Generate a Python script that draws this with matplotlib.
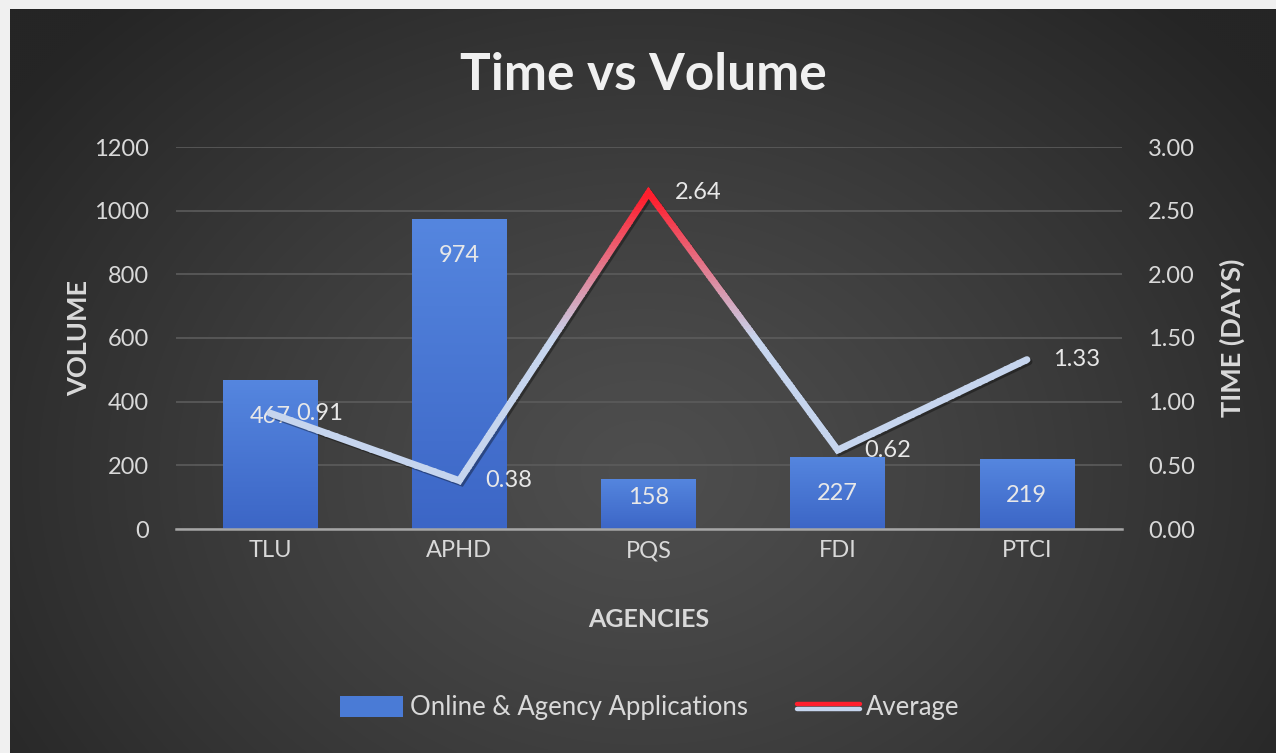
import numpy as np
import matplotlib
matplotlib.use('Agg')
import matplotlib.pyplot as plt
from matplotlib.patches import Rectangle, Patch
from matplotlib.lines import Line2D
from matplotlib.legend_handler import HandlerBase
import matplotlib.transforms as mtransforms

categories = ['TLU', 'APHD', 'PQS', 'FDI', 'PTCI']
volume = [467, 974, 158, 227, 219]
avg_days = [0.91, 0.38, 2.64, 0.62, 1.33]
vol_ticks = [0, 200, 400, 600, 800, 1000, 1200]
day_ticks = [0.0, 0.5, 1.0, 1.5, 2.0, 2.5, 3.0]

FONT = 'Lato'
plt.rcParams['font.family'] = [FONT, 'DejaVu Sans']
TXT = '#d9d9d9'

W, H = 1276, 753
fig = plt.figure(figsize=(W / 100, H / 100), dpi=100, facecolor='#f0f0f0')

# ---- radial gradient background ----
bg = fig.add_axes([10 / W, 0, 1 - 10 / W, 1 - 9 / H])
gh, gw = 372, 633
yy, xx = np.mgrid[0:gh, 0:gw]
cx, cy = gw * 0.50, gh * 0.62
r = np.sqrt(((xx - cx) / (gw * 0.62)) ** 2 + ((yy - cy) / (gh * 0.85)) ** 2)
r = np.clip(r, 0, 1)
light, dark = 0x4e / 255, 0x25 / 255
val = light - (light - dark) * r ** 1.2
img = np.dstack([val, val, val])
bg.imshow(img, aspect='auto', interpolation='bilinear')
bg.axis('off')

# ---- main axes ----
ax = fig.add_axes([175.5 / W, 1 - 529 / H, (1121.5 - 175.5) / W, (529 - 147) / H])
ax.patch.set_alpha(0)
x = np.arange(len(categories))
ax.set_xlim(-0.5, len(categories) - 0.5)
ax.set_ylim(vol_ticks[0], vol_ticks[-1])
ax.set_yticks(vol_ticks)
ax.set_yticklabels([str(v) for v in vol_ticks])
ax.set_xticks(x)
ax.set_xticklabels(categories)
ax.grid(axis='y', color='#5c5c5c', lw=1.2, zorder=0)
ax.set_axisbelow(True)
for s in ['top', 'left', 'right']:
    ax.spines[s].set_visible(False)
ax.spines['bottom'].set_color('#a6a6a6')
ax.spines['bottom'].set_linewidth(1.8)
ax.tick_params(axis='both', length=0, colors=TXT, labelsize=17)
ax.tick_params(axis='y', pad=19)
ax.tick_params(axis='x', pad=8)

bars = ax.bar(x, volume, width=0.5, color='#4a7bd6', zorder=2)
grad = np.linspace(0, 1, 100).reshape(-1, 1)
top_c = np.array([0x55, 0x86, 0xdf]) / 255
bot_c = np.array([0x3c, 0x66, 0xc6]) / 255
gimg = (top_c[None, None, :] * (1 - grad[:, :, None]) + bot_c[None, None, :] * grad[:, :, None])
for b in bars:
    bx, by, bw, bh = b.get_x(), b.get_y(), b.get_width(), b.get_height()
    im = ax.imshow(gimg, extent=[bx, bx + bw, by, by + bh], aspect='auto',
                   zorder=2.1, interpolation='bilinear')
    im.set_clip_path(b)
ax.set_xlim(-0.5, len(categories) - 0.5)
ax.set_ylim(vol_ticks[0], vol_ticks[-1])

for xi, v in zip(x, volume):
    ly = max(v - 115, 100)
    ax.text(xi, ly, str(v), ha='center', va='center', color='#e8e8e8',
            fontsize=17, zorder=5)

ax.set_ylabel('VOLUME', color=TXT, fontsize=19.5, fontweight='bold', labelpad=2)
ax.set_xlabel('AGENCIES', color=TXT, fontsize=18, fontweight='bold', labelpad=34)

# ---- secondary axis ----
ax2 = ax.twinx()
ax2.set_ylim(day_ticks[0], day_ticks[-1])
ax2.set_yticks(day_ticks)
ax2.set_yticklabels([f'{v:.2f}' for v in day_ticks])
for s in ['top', 'left', 'right', 'bottom']:
    ax2.spines[s].set_visible(False)
ax2.tick_params(axis='y', length=0, colors=TXT, labelsize=17, pad=19)
ax2.set_ylabel('TIME (DAYS)', color=TXT, fontsize=19.5, fontweight='bold',
               rotation=90, labelpad=18)

red = np.array([1.0, 0.12, 0.18])
blue = np.array([0xc6, 0xd5, 0xee]) / 255
def color_at(v, hi=2.6, lo=1.5):
    t = np.clip((v - lo) / (hi - lo), 0, 1)
    return blue * (1 - t) + red * t

shadow_tr = ax2.transData + mtransforms.ScaledTranslation(1.5 / 72, -1.5 / 72, fig.dpi_scale_trans)
ax2.plot(x, avg_days, color='black', alpha=0.35, lw=5, transform=shadow_tr,
         solid_capstyle='round', solid_joinstyle='miter', zorder=3)
edges = np.linspace(0, 3, 121)
for lo_e, hi_e in zip(edges[:-1], edges[1:]):
    c = color_at((lo_e + hi_e) / 2)
    ln, = ax2.plot(x, avg_days, color=c, lw=5, solid_capstyle='round',
                   solid_joinstyle='miter', zorder=4)
    rect = Rectangle((-1, lo_e - 0.002), 7, hi_e - lo_e + 0.004, transform=ax2.transData)
    ln.set_clip_path(rect)

for xi, v in zip(x, avg_days):
    ax2.annotate(f'{v:.2f}', (xi, v), xytext=(19, 0), textcoords='offset points',
                 ha='left', va='center', color='#e8e8e8', fontsize=17, zorder=6)

# ---- title ----
fig.text(643 / W, 1 - 76 / H, 'Time vs Volume', ha='center', va='center',
         color='#f0f0f0', fontsize=37, fontweight='bold')

# ---- legend ----
class GradLineHandler(HandlerBase):
    def create_artists(self, legend, orig_handle, xdescent, ydescent, width, height, fontsize, trans):
        yc = height / 2 - ydescent
        l1 = Line2D([0, width], [yc + 1.6, yc + 1.6], color=red, lw=3.2, solid_capstyle='round', transform=trans)
        l2 = Line2D([0, width], [yc - 1.6, yc - 1.6], color=blue, lw=3.2, solid_capstyle='round', transform=trans)
        return [l1, l2]

h_bar = Patch(facecolor='#4a7bd6', edgecolor='none')
h_line = Line2D([], [])
leg = fig.legend([h_bar, h_line], ['Online & Agency Applications', 'Average'],
                 handler_map={h_line: GradLineHandler()},
                 loc='center', bbox_to_anchor=(650 / W, 1 - 708 / H), ncol=2,
                 frameon=False, fontsize=18.5, labelcolor=TXT,
                 handlelength=2.45, handleheight=0.85, handletextpad=0.25, columnspacing=1.9)

fig.savefig('out.png', dpi=100, facecolor=fig.get_facecolor())
